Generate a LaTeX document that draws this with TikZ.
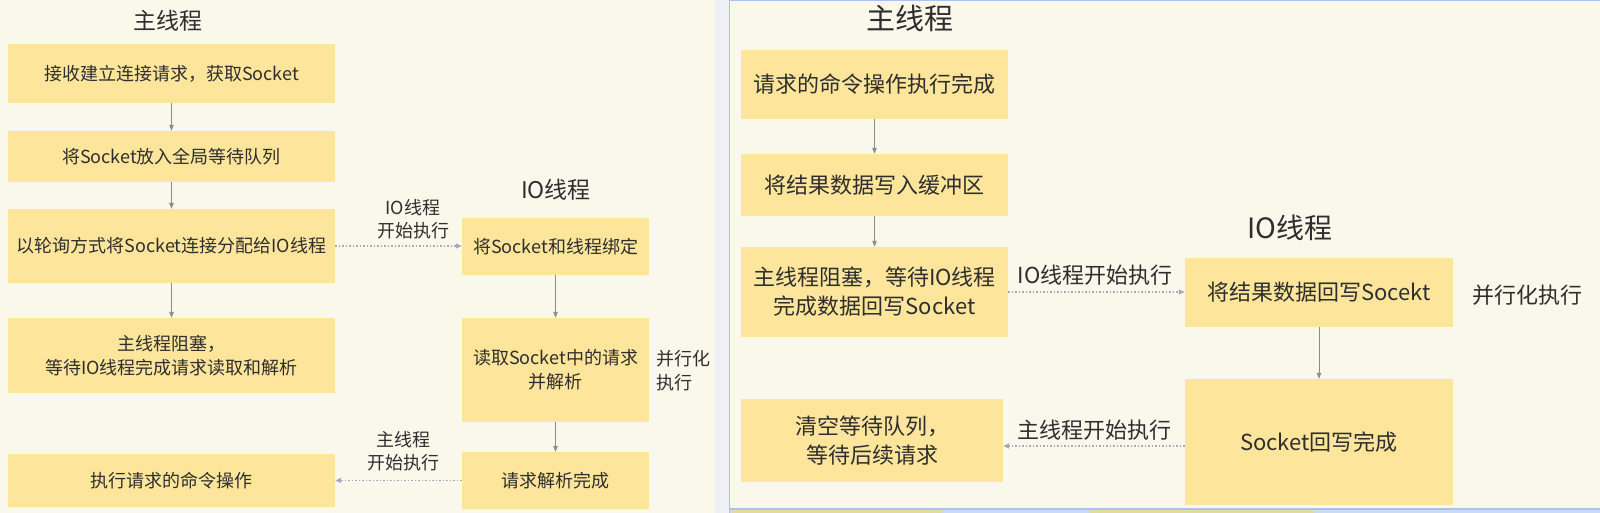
\documentclass[tikz,border=0pt]{standalone}
\usepackage{fontspec}
\setmainfont{Noto Sans CJK SC}
\usetikzlibrary{arrows.meta}
\definecolor{cream}{HTML}{FAF8EB}
\definecolor{strip}{HTML}{EEF0F6}
\definecolor{bluebd}{HTML}{A8C4EE}
\definecolor{boxfill}{HTML}{FDE59B}
\definecolor{txt}{HTML}{2E2E2E}
\definecolor{arr}{HTML}{8C8C8C}
\definecolor{dots}{HTML}{A3AABA}
\definecolor{fragy}{HTML}{E6D99E}
\definecolor{fragb}{HTML}{C9DAF5}
\tikzset{
  box/.style={rectangle, fill=boxfill, draw=none, inner sep=0pt, align=center, text=txt},
  lbox/.style={box, font=\fontsize{18}{24}\selectfont},
  rbox/.style={box, font=\fontsize{22}{29}\selectfont},
  ttl/.style={text=txt, inner sep=0pt},
  lbl/.style={text=txt, inner sep=0pt, align=center},
  flow/.style={draw=arr, line width=0.9pt, -{Triangle[length=6pt,width=4.5pt]}},
  async/.style={draw=dots, line width=1.5pt, dotted, -{Triangle[length=6pt,width=5pt]}},
}
\begin{document}
\begin{tikzpicture}[x=1pt,y=-1pt]
\useasboundingbox (0,0) rectangle (1600,513);
% backgrounds
\fill[cream] (0,0) rectangle (715,513);
\fill[strip] (715,0) rectangle (729,513);
\fill[fragb] (729,509) rectangle (1600,513);
\fill[fragy] (731,510) rectangle (942,513);
\fill[fragy] (1090,510) rectangle (1314,513);
\fill[cream] (729,0) rectangle (1600,509);
\draw[bluebd, line width=1.5pt] (729.5,513) -- (729.5,0.75) -- (1600,0.75);
\draw[bluebd, line width=1.2pt] (729.5,509) -- (1600,509);

% ---------- left panel ----------
\node[ttl, font=\fontsize{23}{23}\selectfont] (lt1) at (168,21) {主线程};
\node[ttl, font=\fontsize{23}{23}\selectfont] (lt2) at (556,190) {IO线程};

\node[lbox, minimum width=327pt, minimum height=59pt] (b1) at (171.5,73.5) {接收建立连接请求，获取Socket};
\node[lbox, minimum width=327pt, minimum height=51pt] (b2) at (171.5,156.5) {将Socket放入全局等待队列};
\node[lbox, minimum width=327pt, minimum height=74pt] (b3) at (171.5,246) {以轮询方式将Socket连接分配给IO线程};
\node[lbox, minimum width=327pt, minimum height=75pt] (b4) at (171.5,355.5) {主线程阻塞，\\等待IO线程完成请求读取和解析};
\node[lbox, minimum width=327pt, minimum height=53pt] (b5) at (171.5,480.5) {执行请求的命令操作};

\node[lbox, minimum width=187pt, minimum height=57pt] (i1) at (555.5,246.5) {将Socket和线程绑定};
\node[lbox, minimum width=187pt, minimum height=104pt] (i2) at (555.5,370) {读取Socket中的请求\\并解析};
\node[lbox, minimum width=187pt, minimum height=57pt] (i3) at (555.5,480.5) {请求解析完成};

\node[lbl, font=\fontsize{18}{23}\selectfont] (l1) at (413,219) {IO线程\\开始执行};
\node[lbl, font=\fontsize{18}{23}\selectfont] (l2) at (403,451) {主线程\\开始执行};
\node[lbl, font=\fontsize{18}{24}\selectfont, align=left, anchor=west] (l3) at (656,371) {并行化\\执行};

\draw[flow] (b1) -- (b2);
\draw[flow] (b2) -- (b3);
\draw[flow] (b3) -- (b4);
\draw[flow] (i1) -- (i2);
\draw[flow] (i2) -- (i3);
\draw[async] (b3.east) -- (i1.west |- b3.east);
\draw[async] (i3.west) -- (b5.east);

% ---------- right panel ----------
\node[ttl, font=\fontsize{29}{29}\selectfont] (rt1) at (910,18) {主线程};
\node[ttl, font=\fontsize{28}{28}\selectfont] (rt2) at (1290,228) {IO线程};

\node[rbox, minimum width=267pt, minimum height=69pt] (r1) at (874.5,84.5) {请求的命令操作执行完成};
\node[rbox, minimum width=267pt, minimum height=62pt] (r2) at (874.5,185) {将结果数据写入缓冲区};
\node[rbox, minimum width=267pt, minimum height=90pt] (r3) at (874.5,292) {主线程阻塞，等待IO线程\\完成数据回写Socket};
\node[rbox, minimum width=262pt, minimum height=83pt] (r4) at (872,440.5) {清空等待队列，\\等待后续请求};

\node[rbox, minimum width=268pt, minimum height=69pt] (s1) at (1319,292.5) {将结果数据回写Socekt};
\node[rbox, minimum width=268pt, minimum height=126pt] (s2) at (1319,442) {Socket回写完成};

\node[lbl, font=\fontsize{22}{22}\selectfont] (m1) at (1095,275) {IO线程开始执行};
\node[lbl, font=\fontsize{22}{22}\selectfont] (m2) at (1094,430) {主线程开始执行};
\node[lbl, font=\fontsize{22}{22}\selectfont, anchor=west] (m3) at (1472,295) {并行化执行};

\draw[flow] (r1) -- (r2);
\draw[flow] (r2) -- (r3);
\draw[flow] (s1) -- (s2);
\draw[async] (r3.east) -- (s1.west |- r3.east);
\draw[async] (s2.west |- 0,446) -- (r4.east |- 0,446);
\end{tikzpicture}
\end{document}
